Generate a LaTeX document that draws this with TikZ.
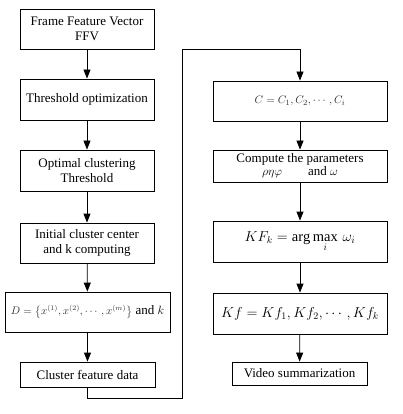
\documentclass[tikz,border=0pt]{standalone}
\usepackage{fontspec}
\setmainfont{Liberation Serif}
\usepackage{amsmath, amssymb}
\usepackage{xcolor}
\usetikzlibrary{arrows.meta, positioning}
\definecolor{formula}{RGB}{45,45,45}

\begin{document}
\begin{tikzpicture}[x=1pt, y=-1pt,
    stepbox/.style={draw, line width=0.8pt, align=center, inner sep=1pt,
      minimum width=134pt, minimum height=40pt,
      font=\fontsize{13}{15}\selectfont},
    widebox/.style={stepbox, minimum width=174pt},
    bigmath/.style={font=\fontsize{14.5}{17}\selectfont},
    smallmath/.style={font=\fontsize{11}{13}\selectfont},
    flow/.style={-{Triangle[length=9pt, width=7pt]}, line width=0.8pt}]
    \useasboundingbox (0,0) rectangle (403,414);
    % left column
    \node[stepbox] (ffv) at (87,29) {Frame Feature Vector\\FFV};
    \node[stepbox, minimum height=41pt] (thopt) at (87,99.5) {Threshold optimization};
    \node[stepbox, minimum height=41pt] (optth) at (87,170.5) {Optimal clustering\\Threshold};
    \node[stepbox] (init) at (87,243) {Initial cluster center\\and k computing};
    \node[stepbox, minimum width=165pt] (dset) at (87.5,312)
      {\textcolor{formula}{\fontsize{10.5}{12}\selectfont$D=\bigl\{x^{(1)},x^{(2)},\cdots,x^{(m)}\bigr\}$} and $k$};
    \node[stepbox, minimum width=135pt, minimum height=25pt] (cfd) at (87.5,374.5) {Cluster feature data};
    % right column
    \node[widebox, smallmath] (cset) at (300,101) {\textcolor{formula}{$C=C_1,C_2,\cdots,C_i$}};
    \node[widebox, minimum height=32pt] (param) at (300,166)
      {Compute the parameters\\[-2pt]$\rho\eta\varphi$\qquad and $\omega$};
    \node[widebox, minimum height=41pt, bigmath] (kfk) at (300,241.5)
      {$KF_k=\arg\max\limits_{i}\,\omega_i$};
    \node[widebox, minimum height=41pt, bigmath] (kf) at (300,313.5)
      {$Kf=Kf_1,Kf_2,\cdots,Kf_k$};
    \node[stepbox, minimum width=135pt, minimum height=23pt] (vsum) at (299.5,373.5) {Video summarization};
    % arrows
    \draw[flow] (ffv) -- (thopt);
    \draw[flow] (thopt) -- (optth);
    \draw[flow] (optth) -- (init);
    \draw[flow] (init) -- (dset);
    \draw[flow] (dset) -- (cfd);
    \draw[flow] (cfd.south) -- ++(0,11) -| (182,49) -| (cset.north);
    \draw[flow] (cset) -- (param);
    \draw[flow] (param) -- (kfk);
    \draw[flow] (kfk) -- (kf);
    \draw[flow] (kf) -- (vsum);
\end{tikzpicture}
\end{document}
